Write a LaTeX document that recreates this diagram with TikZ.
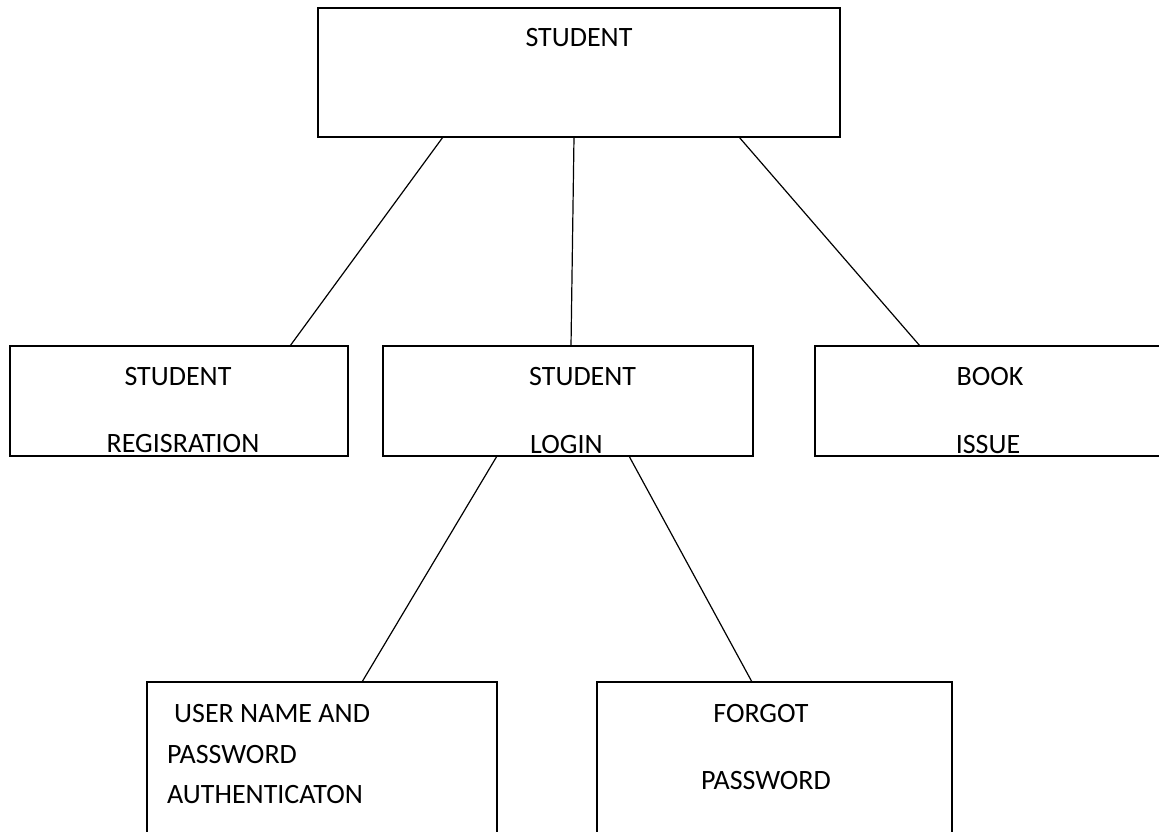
\documentclass[tikz,border=0pt]{standalone}
\usepackage{fontspec}
\setmainfont{Carlito}
\usetikzlibrary{calc}
\begin{document}
\begin{tikzpicture}[x=1pt,y=-1pt,
  box/.style={draw,line width=1.6pt,inner sep=0pt,outer sep=0pt,anchor=north west},
  lbl/.style={inner sep=0pt,font=\fontsize{28}{34}\selectfont},
  link/.style={line width=1.2pt}]
\useasboundingbox (0,0) rectangle (1159,832);
\clip (0,0) rectangle (1159,832);
\fill[white] (0,0) rectangle (1159,832);
% boxes
\node[box,minimum width=522pt,minimum height=129pt] (top) at (318,8) {};
\node[box,minimum width=338pt,minimum height=110pt] (reg) at (10,346) {};
\node[box,minimum width=370pt,minimum height=110pt] (login) at (383,346) {};
\node[box,minimum width=350pt,minimum height=110pt] (book) at (815,346) {};
\node[box,minimum width=350pt,minimum height=170pt] (user) at (147,682) {};
\node[box,minimum width=355pt,minimum height=170pt] (forgot) at (597,682) {};
% texts
\node[lbl,anchor=base] (t1) at (579,47) {STUDENT};
\node[lbl,anchor=base] (t2) at (178,385) {STUDENT};
\node[lbl,anchor=base] (t3) at (183,452) {REGISRATION};
\node[lbl,anchor=base west] (t4) at (529,385) {STUDENT};
\node[lbl,anchor=base west] (t5) at (530,453) {LOGIN};
\node[lbl,anchor=base] (t6) at (990,385) {BOOK};
\node[lbl,anchor=base] (t7) at (988,453) {ISSUE};
\node[lbl,anchor=base west] (t8) at (174,722) {USER NAME AND};
\node[lbl,anchor=base west] (t9) at (167,763) {PASSWORD};
\node[lbl,anchor=base west] (t10) at (167,803) {AUTHENTICATON};
\node[lbl,anchor=base] (t11) at (761,722) {FORGOT};
\node[lbl,anchor=base] (t12) at (766,789) {PASSWORD};
% connectors
\draw[link] ($(top.south west)+(125,0)$) -- ($(reg.north west)+(280,0)$);
\draw[link] ($(top.south west)+(256,0)$) -- ($(login.north west)+(188,0)$);
\draw[link] ($(top.south west)+(421,0)$) -- ($(book.north west)+(105,0)$);
\draw[link] ($(login.south west)+(114,0)$) -- ($(user.north west)+(215,0)$);
\draw[link] ($(login.south west)+(246,0)$) -- ($(forgot.north west)+(155,0)$);
\end{tikzpicture}
\end{document}
